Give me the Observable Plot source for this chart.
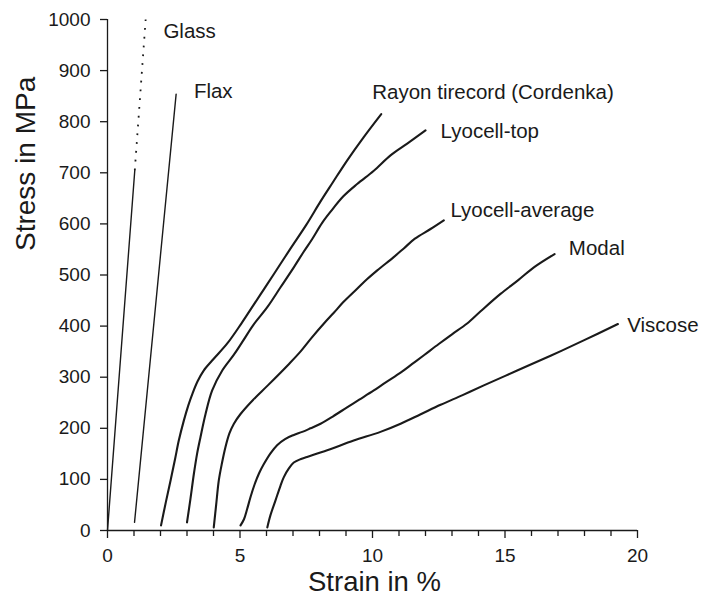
<!DOCTYPE html>
<html>
<head>
<meta charset="utf-8">
<script src="https://cdn.jsdelivr.net/npm/d3@7"></script>
<script src="https://cdn.jsdelivr.net/npm/@observablehq/plot@0.6"></script>
<style>
  html, body { margin: 0; padding: 0; background: #fff; }
  #chart svg { display: block; }
</style>
</head>
<body>
<div id="chart"></div>
<script>
// ---- Data ----
const glassX = [0, 1.03];
const glassY = [0, 705];
const glassExtX = [1.03, 1.44];
const glassExtY = [705, 1000];

const flaxX = [1.02, 2.59];
const flaxY = [16, 854];

const rayonX = [2.02, 2.2, 2.38, 2.55, 2.69, 2.88, 3.05, 3.2, 3.4, 3.63, 4.01, 4.52, 5.05, 5.52, 5.9, 6.28, 6.91, 7.5, 8.04, 8.5, 9.04, 9.67, 10.33];
const rayonY = [10, 55, 98, 140, 176, 215, 245, 267, 292, 313, 336, 366, 405, 442, 472, 502, 552, 598, 644, 681, 724, 770, 815];

const lyoTopX = [3.0, 3.13, 3.26, 3.38, 3.51, 3.7, 3.95, 4.33, 4.77, 5.1, 5.5, 6.03, 6.53, 7.03, 7.41, 7.72, 8.1, 8.42, 8.9, 9.42, 10.05, 10.68, 11.31, 12.0];
const lyoTopY = [16, 62, 111, 150, 183, 228, 274, 313, 344, 370, 402, 437, 476, 515, 546, 570, 602, 624, 654, 678, 704, 734, 757, 783];

const lyoAvgX = [4.01, 4.1, 4.2, 4.32, 4.45, 4.6, 4.77, 5.02, 5.5, 6.05, 6.85, 7.28, 7.7, 8.2, 8.54, 8.9, 9.42, 9.8, 10.18, 10.8, 11.18, 11.6, 12.19, 12.69];
const lyoAvgY = [6, 50, 98, 132, 163, 190, 209, 228, 256, 284, 326, 350, 377, 407, 426, 447, 473, 492, 509, 535, 552, 571, 590, 607];

const modalX = [5.02, 5.15, 5.27, 5.4, 5.55, 5.72, 5.9, 6.15, 6.4, 6.7, 7.03, 7.35, 7.66, 8.04, 8.5, 9.04, 9.5, 10.05, 10.5, 11.06, 11.5, 11.94, 12.5, 13.0, 13.57, 14.08, 14.83, 15.5, 16.09, 16.87];
const modalY = [10, 22, 42, 66, 90, 112, 130, 151, 167, 179, 187, 193, 200, 209, 223, 241, 256, 274, 290, 309, 326, 343, 365, 384, 405, 429, 463, 490, 515, 541];

const viscoseX = [6.03, 6.15, 6.34, 6.53, 6.65, 6.85, 7.03, 7.3, 7.53, 8.29, 9.29, 10.3, 11.06, 11.8, 12.57, 13.4, 14.2, 15.46, 16.72, 17.97, 19.26];
const viscoseY = [6, 30, 59, 88, 104, 122, 133, 140, 144, 157, 176, 193, 209, 227, 246, 265, 284, 313, 342, 372, 404];

const labelText = ["Glass", "Flax", "Rayon tirecord (Cordenka)", "Lyocell-top", "Lyocell-average", "Modal", "Viscose"];
const labelX = [2.11, 3.26, 9.99, 12.57, 12.94, 17.41, 19.61];
const labelY = [976, 859, 857, 781, 626, 552, 401];

const yTicks = [0, 100, 200, 300, 400, 500, 600, 700, 800, 900, 1000];
const xMajorTicks = [0, 5, 10, 15, 20];
const xMinorTicks = [1, 2, 3, 4, 6, 7, 8, 9, 11, 12, 13, 14, 16, 17, 18, 19];

// ---- Build tables ----
function rows(name, xs, ys) { return xs.map((x, i) => ({name, x, y: ys[i]})); }
const thinRows = [...rows("Glass", glassX, glassY), ...rows("Flax", flaxX, flaxY)];
const dottedRows = rows("GlassExt", glassExtX, glassExtY);
const curveRows = [
  ...rows("Rayon", rayonX, rayonY),
  ...rows("LyoTop", lyoTopX, lyoTopY),
  ...rows("LyoAvg", lyoAvgX, lyoAvgY),
  ...rows("Modal", modalX, modalY),
  ...rows("Viscose", viscoseX, viscoseY)
];
const labels = labelText.map((t, i) => ({t, x: labelX[i], y: labelY[i]}));

const ink = "#1a1a1a";
const font = "'Liberation Sans', Arial, Helvetica, sans-serif";

const chart = Plot.plot({
  width: 702,
  height: 601,
  marginLeft: 107,
  marginRight: 65,
  marginTop: 19,
  marginBottom: 71,
  x: {domain: [0, 20]},
  y: {domain: [0, 1000]},
  style: {fontFamily: font, color: ink, background: "#fff"},
  marks: [
    Plot.ruleX([0], {y1: 0, y2: 1000, stroke: ink, strokeWidth: 1.3}),
    Plot.ruleY([0], {x1: 0, x2: 20, stroke: ink, strokeWidth: 1.3}),
    Plot.axisY(yTicks, {tickSize: 7, tickPadding: 10, fontSize: 19, label: null, strokeWidth: 1.3, tickFormat: d3.format("d")}),
    Plot.axisX(xMinorTicks, {tickSize: 6, tickFormat: () => "", label: null, strokeWidth: 1.3}),
    Plot.axisX(xMajorTicks, {tickSize: 8, tickPadding: 10, fontSize: 19, label: null, strokeWidth: 1.3, tickFormat: d3.format("d")}),
    Plot.line(thinRows, {x: "x", y: "y", z: "name", stroke: ink, strokeWidth: 1.4}),
    Plot.line(dottedRows, {x: "x", y: "y", stroke: ink, strokeWidth: 1.8, strokeDasharray: "1.8,7", strokeLinecap: "butt"}),
    Plot.line(curveRows, {x: "x", y: "y", z: "name", stroke: ink, strokeWidth: 2.1, curve: "catmull-rom"}),
    Plot.text(labels, {x: "x", y: "y", text: "t", textAnchor: "start", fontSize: 20.5, fill: ink}),
    Plot.text(["Stress in MPa"], {frameAnchor: "left", rotate: -90, dx: -81, dy: -24, fontSize: 28, fill: ink}),
    Plot.text(["Strain in %"], {frameAnchor: "bottom", dx: 2, dy: 60, fontSize: 27.5, fill: ink})
  ]
});
document.getElementById("chart").appendChild(chart);
</script>
</body>
</html>
